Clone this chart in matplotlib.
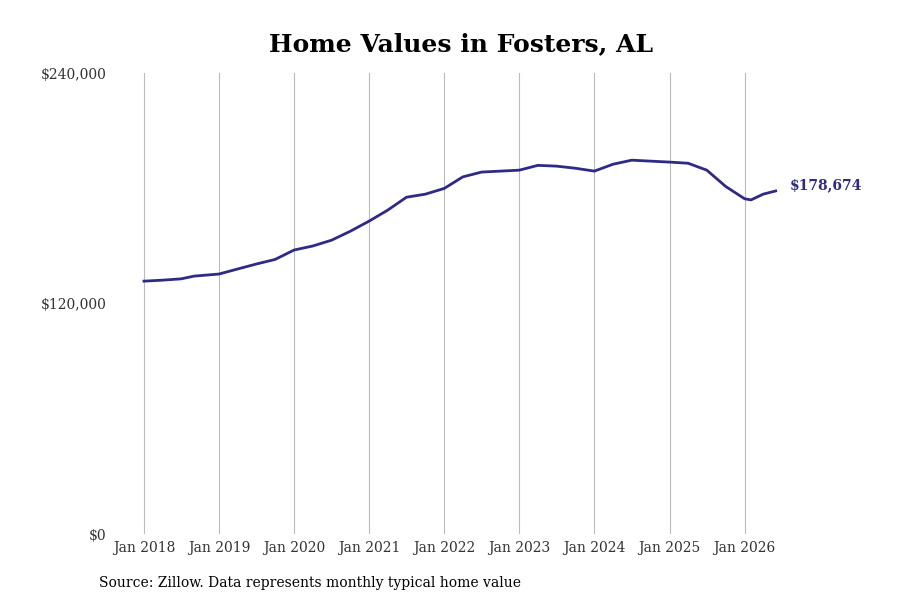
import matplotlib
matplotlib.use("Agg")
import matplotlib.pyplot as plt
import pandas as pd

dates = ["2018-01","2018-04","2018-07","2018-09","2019-01","2019-04","2019-07","2019-10",
         "2020-01","2020-04","2020-07","2020-10","2021-01","2021-04","2021-07","2021-10",
         "2022-01","2022-04","2022-07","2022-10","2023-01","2023-04","2023-07","2023-10",
         "2024-01","2024-04","2024-07","2024-10","2025-01","2025-04","2025-07","2025-10",
         "2026-01","2026-02","2026-04","2026-06"]
values = [131700,132200,132900,134300,135400,138000,140600,143000,
          147900,150000,153000,157700,163000,168700,175400,177000,
          180000,186000,188500,189000,189500,192000,191600,190500,
          189000,192600,194700,194200,193700,193100,189500,181000,
          174600,174000,177000,178674]
xt = ["Jan 2018","Jan 2019","Jan 2020","Jan 2021","Jan 2022","Jan 2023","Jan 2024","Jan 2025","Jan 2026"]

plt.rcParams['font.family'] = ['DejaVu Serif']
x = pd.to_datetime(dates)
fig = plt.figure(figsize=(9, 6), dpi=100)
ax = fig.add_axes([0.12, 0.11, 0.78, 0.768])
color = "#2e2a85"
ax.plot(x, values, color=color, lw=2)
ax.set_ylim(0, 240000)
ax.set_xlim(pd.Timestamp("2017-07-10"), pd.Timestamp("2026-11-15"))
ax.set_yticks([0, 120000, 240000])
ax.set_yticklabels(["$0", "$120,000", "$240,000"], fontsize=10, color="#333333")
ax.set_xticks(pd.to_datetime([f"{y}-01-01" for y in range(2018, 2027)]))
ax.set_xticklabels(xt, fontsize=10, color="#333333")
ax.grid(axis='x', color="#bbbbbb", lw=0.8)
for s in ax.spines.values():
    s.set_visible(False)
ax.tick_params(length=0)
ax.tick_params(axis='y', pad=1)
ax.tick_params(axis='x', pad=5)
ax.annotate(f"${values[-1]:,}", (x[-1], values[-1]), xytext=(10, 4), textcoords="offset points",
            va="center", fontsize=10, fontweight="bold", color=color)
fig.text(0.512, 0.927, "Home Values in Fosters, AL", ha="center", va="center", fontsize=18, fontweight="bold")
fig.text(0.11, 0.022, "Source: Zillow. Data represents monthly typical home value", fontsize=10)
fig.savefig("out.png")
